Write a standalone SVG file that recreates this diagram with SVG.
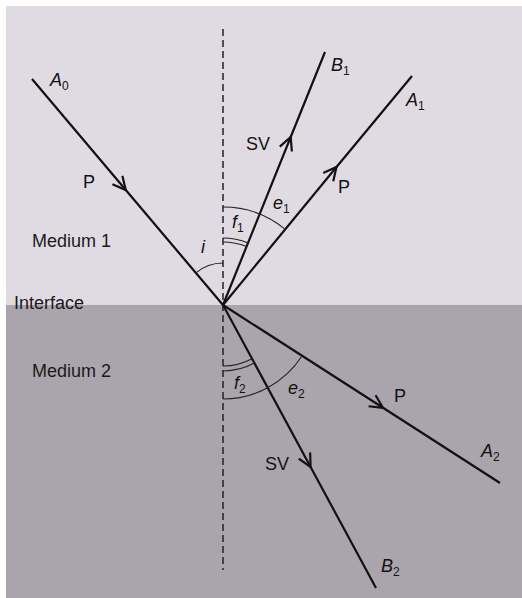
<svg xmlns="http://www.w3.org/2000/svg" width="522" height="598" viewBox="0 0 522 598">
  <defs>
    <style>
      .ray { fill: none; stroke: #111; stroke-width: 2.2; marker-mid: url(#chev); }
      .arc { fill: none; stroke: #222; stroke-width: 1.1; }
      .lbl { font-family: "Liberation Sans", Arial, sans-serif; font-size: 18px; fill: #111; }
      .it { font-style: italic; }
      .sub { font-size: 12px; font-style: normal; }
      .med { font-family: "Liberation Sans", Arial, sans-serif; font-size: 18px; fill: #1a1a1a; }
    </style>
    <marker id="chev" viewBox="-16 -10 20 20" markerWidth="20" markerHeight="20" refX="0" refY="0" orient="auto" markerUnits="userSpaceOnUse">
      <path d="M-13,-6.5 L0,0 L-13,6.5" fill="none" stroke="#111" stroke-width="2.2"/>
    </marker>
    <linearGradient id="ifc" x1="0" y1="0" x2="1" y2="0">
      <stop offset="0" stop-color="#e0c830"/>
      <stop offset="0.35" stop-color="#d04040"/>
      <stop offset="0.65" stop-color="#c03838"/>
      <stop offset="1" stop-color="#5a9a6a"/>
    </linearGradient>
  </defs>

  <g id="background">
    <rect x="0" y="0" width="522" height="598" fill="#ffffff"/>
    <rect x="6" y="6" width="516" height="299" fill="#e0dae2"/>
    <rect x="6" y="305" width="516" height="293" fill="#aaa5ad"/>
    <line x1="97" y1="305" x2="522" y2="305" stroke="url(#ifc)" stroke-width="1.5"/>
    <text class="med" x="14" y="309">Interface</text>
    <text class="med" x="32" y="247">Medium 1</text>
    <text class="med" x="32" y="377">Medium 2</text>
  </g>

  <g id="normal">
    <line x1="223" y1="29" x2="223" y2="570" stroke="#222" stroke-width="1.5" stroke-dasharray="7 4"/>
  </g>

  <g id="connectors">
    <path id="ray-A0" class="ray" d="M32,79 L125.8,190 L223,305"/>
    <path id="ray-B1" class="ray" d="M223,305 L290.7,137 L325,52"/>
    <path id="ray-A1" class="ray" d="M223,305 L336.5,167 L412,76"/>
    <path id="ray-A2" class="ray" d="M223,305 L383,407.8 L500,483"/>
    <path id="ray-B2" class="ray" d="M223,305 L310.6,467 L376,588"/>
  </g>

  <g id="angles">
    <path class="arc" d="M223,263 A42,42 0 0 0 195.9,272.9"/>
    <path class="arc" d="M223,242 A63,63 0 0 1 246.6,246.6"/>
    <path class="arc" d="M223,238 A67,67 0 0 1 248.1,242.9"/>
    <path class="arc" d="M223,207 A98,98 0 0 1 285.3,229.3"/>
    <path class="arc" d="M223,366 A61,61 0 0 0 252,358.7"/>
    <path class="arc" d="M223,371 A66,66 0 0 0 254.4,363.1"/>
    <path class="arc" d="M223,399 A94,94 0 0 0 302.1,355.8"/>
  </g>

  <g id="labels">
    <text class="lbl it" x="50" y="86">A<tspan class="sub" dy="4">0</tspan></text>
    <text class="lbl" x="83" y="188">P</text>
    <text class="lbl it" x="331" y="71">B<tspan class="sub" dy="4">1</tspan></text>
    <text class="lbl it" x="406" y="106">A<tspan class="sub" dy="4">1</tspan></text>
    <text class="lbl" x="246" y="150">SV</text>
    <text class="lbl" x="338" y="193">P</text>
    <text class="lbl it" x="273" y="209">e<tspan class="sub" dy="4">1</tspan></text>
    <text class="lbl it" x="232" y="228">f<tspan class="sub" dy="4">1</tspan></text>
    <text class="lbl it" x="201" y="253">i</text>
    <text class="lbl it" x="234" y="389">f<tspan class="sub" dy="4">2</tspan></text>
    <text class="lbl it" x="288" y="394">e<tspan class="sub" dy="4">2</tspan></text>
    <text class="lbl" x="394" y="402">P</text>
    <text class="lbl it" x="481" y="457">A<tspan class="sub" dy="4">2</tspan></text>
    <text class="lbl" x="265" y="470">SV</text>
    <text class="lbl it" x="381" y="572">B<tspan class="sub" dy="4">2</tspan></text>
  </g>
</svg>
